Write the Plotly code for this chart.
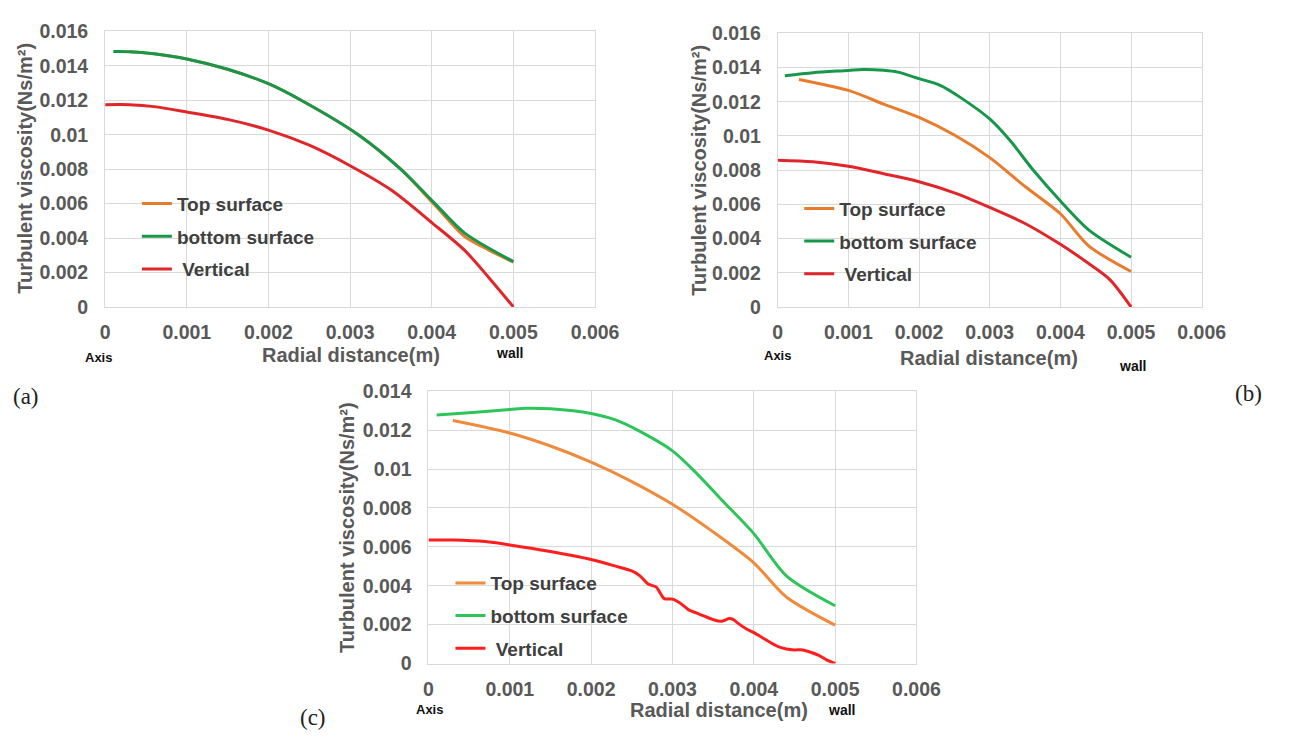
import plotly.graph_objects as go

W, H = 1299, 740

# ---------------- data ----------------
# Panel (a)
a_top_x = [0.0003, 0.0006, 0.001, 0.0015, 0.002, 0.0024, 0.0031, 0.00362, 0.00404, 0.0044, 0.0047, 0.005]
a_top_y = [0.01482, 0.0147, 0.0144, 0.0138, 0.01296, 0.012, 0.010, 0.008, 0.0059, 0.0041, 0.0033, 0.0026]
a_bot_x = [0.0001, 0.0003, 0.0006, 0.001, 0.0015, 0.002, 0.0024, 0.0031, 0.00362, 0.00404, 0.0044, 0.005]
a_bot_y = [0.01483, 0.01482, 0.0147, 0.0144, 0.0138, 0.01296, 0.012, 0.010, 0.008, 0.006, 0.0043, 0.00263]
a_ver_x = [0.0, 0.0003, 0.0006, 0.001, 0.0015, 0.002, 0.0025, 0.003, 0.0035, 0.004, 0.0044, 0.0047, 0.005]
a_ver_y = [0.01174, 0.01174, 0.01163, 0.01132, 0.01089, 0.01027, 0.00939, 0.0082, 0.0068, 0.0049, 0.0033, 0.0017, 0.0]

# Panel (b)
b_top_x = [0.0003, 0.001, 0.0015, 0.002, 0.0025, 0.003, 0.0035, 0.004, 0.0044, 0.005]
b_top_y = [0.0133, 0.01266, 0.01186, 0.01108, 0.01005, 0.00873, 0.00704, 0.00545, 0.00357, 0.00207]
b_bot_x = [0.0001, 0.0005, 0.001, 0.0012, 0.0015, 0.0017, 0.002, 0.0023, 0.0026, 0.003, 0.0033, 0.0036, 0.004, 0.0044, 0.005]
b_bot_y = [0.01352, 0.0137, 0.01383, 0.01389, 0.01384, 0.01373, 0.01335, 0.01296, 0.01221, 0.01099, 0.00967, 0.00808, 0.0062, 0.00451, 0.00291]
b_ver_x = [0.0, 0.0005, 0.001, 0.0015, 0.002, 0.0025, 0.003, 0.0035, 0.004, 0.0044, 0.0047, 0.005]
b_ver_y = [0.00858, 0.00849, 0.00823, 0.00779, 0.00732, 0.00667, 0.00582, 0.00488, 0.00366, 0.00254, 0.0016, 0.0]

# Panel (c)
c_top_x = [0.0003, 0.001, 0.0015, 0.002, 0.0025, 0.003, 0.0035, 0.004, 0.0044, 0.005]
c_top_y = [0.0125, 0.01186, 0.01119, 0.01036, 0.00936, 0.00819, 0.00677, 0.00518, 0.00342, 0.00197]
c_bot_x = [0.0001, 0.0005, 0.001, 0.0012, 0.0015, 0.002, 0.0023, 0.0026, 0.003, 0.0033, 0.0036, 0.004, 0.0044, 0.005]
c_bot_y = [0.01278, 0.0129, 0.01306, 0.01313, 0.0131, 0.01286, 0.01253, 0.01194, 0.01094, 0.00977, 0.00844, 0.00668, 0.00451, 0.00297]
c_ver_x = [0.0, 0.0003, 0.0007, 0.001, 0.0015, 0.002, 0.0023, 0.0025, 0.0026, 0.0027, 0.0028, 0.0029, 0.003,
           0.0031, 0.0032, 0.0033, 0.0034, 0.0035, 0.0036, 0.0037, 0.00375, 0.0038, 0.0039, 0.004, 0.0041,
           0.0042, 0.0043, 0.0044, 0.0045, 0.0046, 0.0047, 0.0048, 0.0049, 0.005]
c_ver_y = [0.00635, 0.00635, 0.00627, 0.0061, 0.00576, 0.00535, 0.00501, 0.00476, 0.00451, 0.00409, 0.00393, 0.00334, 0.00331,
           0.00309, 0.00276, 0.00259, 0.00242, 0.00226, 0.00217, 0.00231, 0.00226, 0.00209, 0.0018, 0.00159, 0.00134,
           0.00109, 0.00087, 0.00075, 0.0007, 0.0007, 0.00058, 0.00042, 0.00017, 0.0]

series_names = ["Top surface", "bottom surface", "\u00a0Vertical"]
x_tick_vals = [0, 0.001, 0.002, 0.003, 0.004, 0.005, 0.006]
x_tick_text = ["0", "0.001", "0.002", "0.003", "0.004", "0.005", "0.006"]
y_tick_vals_16 = [0, 0.002, 0.004, 0.006, 0.008, 0.01, 0.012, 0.014, 0.016]
y_tick_text_16 = ["0", "0.002", "0.004", "0.006", "0.008", "0.01", "0.012", "0.014", "0.016"]
y_tick_vals_14 = y_tick_vals_16[:-1]
y_tick_text_14 = y_tick_text_16[:-1]

y_title = "Turbulent viscosity(Ns/m²)"
x_title = "Radial distance(m)"

# ---------------- styling ----------------
FONT = "Liberation Sans"
TICK_COL = "#595959"
GRID = "#d9d9d9"

panels = [
    dict(key="", legend="legend",
         data=[(a_top_x, a_top_y), (a_bot_x, a_bot_y), (a_ver_x, a_ver_y)],
         colors=["#E97B2D", "#16974A", "#E0262B"],
         px=(102.5, 604), py=(305, 21), ymax=0.016, yt=(y_tick_vals_16, y_tick_text_16),
         leg=(135, 179), ytitle=(21, 162), xtitle=(354, 355), axis=(96, 357), wall=(516, 352),
         tag=("(a)", 21, 397)),
    dict(key="2", legend="legend2",
         data=[(b_top_x, b_top_y), (b_bot_x, b_bot_y), (b_ver_x, b_ver_y)],
         colors=["#E97B2D", "#16974A", "#E0262B"],
         px=(791, 1225), py=(305, 23), ymax=0.016, yt=(y_tick_vals_16, y_tick_text_16),
         leg=(813, 184), ytitle=(711, 164), xtitle=(1007, 358), axis=(791, 355), wall=(1154, 366),
         tag=("(b)", 1273, 394)),
    dict(key="3", legend="legend3",
         data=[(c_top_x, c_top_y), (c_bot_x, c_bot_y), (c_ver_x, c_ver_y)],
         colors=["#F08A3C", "#2DC45A", "#FF1E1E"],
         px=(433.5, 933), py=(672.5, 392), ymax=0.014, yt=(y_tick_vals_14, y_tick_text_14),
         leg=(456, 570), ytitle=(350, 532), xtitle=(731, 720), axis=(435, 720), wall=(856, 720),
         tag=("(c)", 315, 728)),
]

fig = go.Figure()
annotations = []
layout = dict(
    width=W, height=H,
    margin=dict(l=0, r=0, t=0, b=0),
    paper_bgcolor="white", plot_bgcolor="white",
    showlegend=True,
)

for p in panels:
    k = p["key"]
    xa = "x" + k
    ya = "y" + k
    for (xs, ys), name, col in zip(p["data"], series_names, p["colors"]):
        fig.add_trace(go.Scatter(
            x=xs, y=ys, name=name, mode="lines",
            line=dict(color=col, width=3, shape="spline", smoothing=0.8),
            xaxis=xa, yaxis=ya, legend=p["legend"], legendgroup=p["legend"] + name,
        ))
    xdom = [p["px"][0] / W, p["px"][1] / W]
    ydom = [1 - p["py"][0] / H, 1 - p["py"][1] / H]
    layout["xaxis" + k] = dict(
        domain=xdom, range=[0, 0.006], anchor=ya,
        tickmode="array", tickvals=x_tick_vals, ticktext=x_tick_text,
        showgrid=True, gridcolor=GRID, gridwidth=1, zeroline=False,
        showline=True, linecolor=GRID, linewidth=1, mirror=True,
        ticks="", ticklabelstandoff=8,
        tickfont=dict(family=FONT, size=19.5, color=TICK_COL, weight="bold"),
    )
    layout["yaxis" + k] = dict(
        domain=ydom, range=[0, p["ymax"]], anchor=xa,
        tickmode="array", tickvals=p["yt"][0], ticktext=p["yt"][1],
        showgrid=True, gridcolor=GRID, gridwidth=1, zeroline=False,
        showline=True, linecolor=GRID, linewidth=1, mirror=True,
        ticks="", ticklabelstandoff=12,
        tickfont=dict(family=FONT, size=19.5, color=TICK_COL, weight="bold"),
    )
    layout[p["legend"]] = dict(
        x=p["leg"][0] / W, y=1 - p["leg"][1] / H, xanchor="left", yanchor="top",
        xref="paper", yref="paper",
        bgcolor="rgba(0,0,0,0)", borderwidth=0,
        font=dict(family=FONT, size=19, color="#404040", weight="bold"),
        tracegroupgap=5, itemwidth=30,
    )
    annotations.append(dict(
        text=y_title, x=p["ytitle"][0] / W, y=1 - p["ytitle"][1] / H, xref="paper", yref="paper",
        xanchor="center", yanchor="middle", textangle=-90, showarrow=False,
        font=dict(family=FONT, size=20, color=TICK_COL, weight="bold")))
    annotations.append(dict(
        text=x_title, x=p["xtitle"][0] / W, y=1 - p["xtitle"][1] / H, xref="paper", yref="paper",
        xanchor="center", yanchor="middle", showarrow=False,
        font=dict(family=FONT, size=20, color=TICK_COL, weight="bold")))
    annotations.append(dict(
        text="Axis", x=p["axis"][0] / W, y=1 - p["axis"][1] / H, xref="paper", yref="paper",
        xanchor="center", yanchor="middle", showarrow=False,
        font=dict(family=FONT, size=13, color="#111111", weight="bold")))
    annotations.append(dict(
        text="wall", x=p["wall"][0] / W, y=1 - p["wall"][1] / H, xref="paper", yref="paper",
        xanchor="center", yanchor="middle", showarrow=False,
        font=dict(family=FONT, size=14, color="#111111", weight="bold")))
    annotations.append(dict(
        text=p["tag"][0], x=p["tag"][1] / W, y=1 - p["tag"][2] / H, xref="paper", yref="paper",
        xanchor="center", yanchor="middle", showarrow=False,
        font=dict(family="Liberation Serif", size=23, color="#222222")))

layout["annotations"] = annotations
fig.update_layout(**layout)
fig.write_html("out.html", config={"displayModeBar": False},
               post_script="document.body.style.margin='0px';")
